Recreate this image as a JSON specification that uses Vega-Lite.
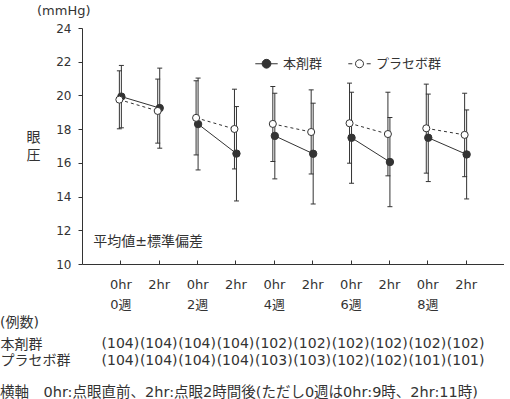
{
  "$schema": "https://vega.github.io/schema/vega-lite/v6.json",
  "background": "white",
  "padding": {"left": 0, "top": 5, "right": 0, "bottom": 0},
  "spacing": 5,
  "title": {"text": "横軸　0hr:点眼直前、2hr:点眼2時間後(ただし0週は0hr:9時、2hr:11時)", "orient": "bottom", "anchor": "start", "frame": "bounds", "offset": 17, "fontSize": 14.5, "fontWeight": "normal", "color": "#333"},
  "datasets": {
    "iop": [
      {"time": "0週 0hr", "week": "0週", "group": "本剤群", "mean": 19.93, "lo": 18.08, "hi": 21.78, "n": "(104)"},
      {"time": "0週 2hr", "week": "0週", "group": "本剤群", "mean": 19.25, "lo": 16.87, "hi": 21.62, "n": "(104)"},
      {"time": "2週 0hr", "week": "2週", "group": "本剤群", "mean": 18.30, "lo": 15.58, "hi": 21.03, "n": "(104)"},
      {"time": "2週 2hr", "week": "2週", "group": "本剤群", "mean": 16.55, "lo": 13.74, "hi": 19.34, "n": "(104)"},
      {"time": "4週 0hr", "week": "4週", "group": "本剤群", "mean": 17.60, "lo": 15.05, "hi": 20.13, "n": "(102)"},
      {"time": "4週 2hr", "week": "4週", "group": "本剤群", "mean": 16.54, "lo": 13.56, "hi": 19.54, "n": "(102)"},
      {"time": "6週 0hr", "week": "6週", "group": "本剤群", "mean": 17.49, "lo": 14.79, "hi": 20.19, "n": "(102)"},
      {"time": "6週 2hr", "week": "6週", "group": "本剤群", "mean": 16.05, "lo": 13.40, "hi": 18.69, "n": "(102)"},
      {"time": "8週 0hr", "week": "8週", "group": "本剤群", "mean": 17.49, "lo": 14.89, "hi": 20.08, "n": "(102)"},
      {"time": "8週 2hr", "week": "8週", "group": "本剤群", "mean": 16.50, "lo": 13.86, "hi": 19.14, "n": "(102)"},
      {"time": "0週 0hr", "week": "0週", "group": "プラセボ群", "mean": 19.75, "lo": 18.02, "hi": 21.46, "n": "(104)"},
      {"time": "0週 2hr", "week": "0週", "group": "プラセボ群", "mean": 19.08, "lo": 17.17, "hi": 20.97, "n": "(104)"},
      {"time": "2週 0hr", "week": "2週", "group": "プラセボ群", "mean": 18.67, "lo": 16.47, "hi": 20.87, "n": "(104)"},
      {"time": "2週 2hr", "week": "2週", "group": "プラセボ群", "mean": 18.01, "lo": 15.64, "hi": 20.37, "n": "(104)"},
      {"time": "4週 0hr", "week": "4週", "group": "プラセボ群", "mean": 18.31, "lo": 16.08, "hi": 20.53, "n": "(103)"},
      {"time": "4週 2hr", "week": "4週", "group": "プラセボ群", "mean": 17.83, "lo": 15.34, "hi": 20.33, "n": "(103)"},
      {"time": "6週 0hr", "week": "6週", "group": "プラセボ群", "mean": 18.35, "lo": 15.98, "hi": 20.73, "n": "(102)"},
      {"time": "6週 2hr", "week": "6週", "group": "プラセボ群", "mean": 17.71, "lo": 15.23, "hi": 20.19, "n": "(102)"},
      {"time": "8週 0hr", "week": "8週", "group": "プラセボ群", "mean": 18.05, "lo": 15.39, "hi": 20.67, "n": "(101)"},
      {"time": "8週 2hr", "week": "8週", "group": "プラセボ群", "mean": 17.66, "lo": 15.18, "hi": 20.13, "n": "(101)"}
    ]
  },
  "resolve": {"scale": {"fill": "independent", "shape": "independent", "stroke": "independent", "xOffset": "independent"}},
  "vconcat": [
    {
      "width": 422,
      "height": 236,
      "data": {"name": "iop"},
      "title": {"text": "(mmHg)", "anchor": "start", "frame": "group", "dx": -45, "offset": 4, "fontSize": 13, "fontWeight": "normal", "color": "#333"},
      "encoding": {
        "x": {
          "field": "time", "type": "ordinal",
          "scale": {"type": "point", "padding": 1, "domain": ["0週 0hr", "0週 2hr", "2週 0hr", "2週 2hr", "4週 0hr", "4週 2hr", "6週 0hr", "6週 2hr", "8週 0hr", "8週 2hr"]},
          "axis": {
            "title": null, "labelAngle": 0, "tickSize": -4, "labelPadding": 18, "labelFontSize": 13, "labelLineHeight": 20,
            "labelExpr": "slice(datum.label, -3) == '0hr' ? ['0hr', slice(datum.label, 0, 2)] : '2hr'",
            "grid": false
          }
        },
        "xOffset": {"field": "group", "type": "nominal", "scale": {"domain": ["プラセボ群", "本剤群"], "range": [-2, 2]}}
      },
      "layer": [
        {
          "mark": {"type": "rule", "color": "#333", "strokeWidth": 1},
          "encoding": {
            "y": {"field": "lo", "type": "quantitative", "scale": {"domain": [10, 24], "nice": false, "zero": false},
              "axis": {"values": [10, 12, 14, 16, 18, 20, 22, 24], "tickCount": 8, "labelOverlap": false, "tickSize": 4, "labelPadding": 7, "labelFontSize": 12, "grid": false,
                "title": ["眼", "圧"], "titleAngle": 0, "titleX": -49, "titleY": 109, "titleAlign": "center", "titleBaseline": "middle",
                "titleFontSize": 14, "titleFontWeight": "normal", "titleLineHeight": 18}},
            "y2": {"field": "hi"}
          }
        },
        {
          "mark": {"type": "tick", "color": "#333", "size": 5, "thickness": 1, "opacity": 1},
          "encoding": {"y": {"field": "hi", "type": "quantitative",
            "axis": {"values": [10, 12, 14, 16, 18, 20, 22, 24], "tickCount": 8, "labelOverlap": false, "tickSize": 4, "labelPadding": 7, "labelFontSize": 12, "grid": false,
                "title": ["眼", "圧"], "titleAngle": 0, "titleX": -49, "titleY": 109, "titleAlign": "center", "titleBaseline": "middle",
                "titleFontSize": 14, "titleFontWeight": "normal", "titleLineHeight": 18}}}
        },
        {
          "mark": {"type": "tick", "color": "#333", "size": 5, "thickness": 1, "opacity": 1},
          "encoding": {"y": {"field": "lo", "type": "quantitative",
            "axis": {"values": [10, 12, 14, 16, 18, 20, 22, 24], "tickCount": 8, "labelOverlap": false, "tickSize": 4, "labelPadding": 7, "labelFontSize": 12, "grid": false,
                "title": ["眼", "圧"], "titleAngle": 0, "titleX": -49, "titleY": 109, "titleAlign": "center", "titleBaseline": "middle",
                "titleFontSize": 14, "titleFontWeight": "normal", "titleLineHeight": 18}}}
        },
        {
          "transform": [{"filter": "datum.group == '本剤群'"}],
          "mark": {"type": "line", "color": "#333", "strokeWidth": 1},
          "encoding": {"y": {"field": "mean", "type": "quantitative",
            "axis": {"values": [10, 12, 14, 16, 18, 20, 22, 24], "tickCount": 8, "labelOverlap": false, "tickSize": 4, "labelPadding": 7, "labelFontSize": 12, "grid": false,
                "title": ["眼", "圧"], "titleAngle": 0, "titleX": -49, "titleY": 109, "titleAlign": "center", "titleBaseline": "middle",
                "titleFontSize": 14, "titleFontWeight": "normal", "titleLineHeight": 18}}, "detail": {"field": "week"}}
        },
        {
          "transform": [{"filter": "datum.group == 'プラセボ群'"}],
          "mark": {"type": "line", "color": "#333", "strokeWidth": 1, "strokeDash": [3, 3]},
          "encoding": {"y": {"field": "mean", "type": "quantitative",
            "axis": {"values": [10, 12, 14, 16, 18, 20, 22, 24], "tickCount": 8, "labelOverlap": false, "tickSize": 4, "labelPadding": 7, "labelFontSize": 12, "grid": false,
                "title": ["眼", "圧"], "titleAngle": 0, "titleX": -49, "titleY": 109, "titleAlign": "center", "titleBaseline": "middle",
                "titleFontSize": 14, "titleFontWeight": "normal", "titleLineHeight": 18}}, "detail": {"field": "week"}}
        },
        {
          "transform": [{"filter": "datum.group == '本剤群'"}],
          "mark": {"type": "point", "filled": true, "fill": "#333", "stroke": "#333", "strokeWidth": 1, "size": 55, "opacity": 1},
          "encoding": {"y": {"field": "mean", "type": "quantitative",
            "axis": {"values": [10, 12, 14, 16, 18, 20, 22, 24], "tickCount": 8, "labelOverlap": false, "tickSize": 4, "labelPadding": 7, "labelFontSize": 12, "grid": false,
                "title": ["眼", "圧"], "titleAngle": 0, "titleX": -49, "titleY": 109, "titleAlign": "center", "titleBaseline": "middle",
                "titleFontSize": 14, "titleFontWeight": "normal", "titleLineHeight": 18}}}
        },
        {
          "transform": [{"filter": "datum.group == 'プラセボ群'"}],
          "mark": {"type": "point", "filled": true, "fill": "white", "stroke": "#333", "strokeWidth": 1, "size": 50, "opacity": 1},
          "encoding": {"y": {"field": "mean", "type": "quantitative",
            "axis": {"values": [10, 12, 14, 16, 18, 20, 22, 24], "tickCount": 8, "labelOverlap": false, "tickSize": 4, "labelPadding": 7, "labelFontSize": 12, "grid": false,
                "title": ["眼", "圧"], "titleAngle": 0, "titleX": -49, "titleY": 109, "titleAlign": "center", "titleBaseline": "middle",
                "titleFontSize": 14, "titleFontWeight": "normal", "titleLineHeight": 18}}}
        },
        {
          "transform": [{"filter": "datum.group == 'none'"}],
          "mark": {"type": "point", "filled": true, "opacity": 1, "strokeWidth": 1},
          "encoding": {
            "x": {"field": "time", "type": "ordinal"},
            "xOffset": {"field": "group", "type": "nominal"},
            "shape": {"field": "group", "type": "nominal",
              "scale": {"domain": ["本剤群", "プラセボ群"], "range": ["M-1.4,0H1.4M0.55,0A0.55,0.55,0,1,1,-0.55,0A0.55,0.55,0,1,1,0.55,0Z", "M-1.4,0H-0.9M0.9,0H1.4M0.5,0A0.5,0.5,0,1,1,-0.5,0A0.5,0.5,0,1,1,0.5,0Z"]},
              "legend": {"orient": "none", "legendX": 176, "legendY": 27, "direction": "horizontal", "title": null, "symbolSize": 256, "symbolStrokeWidth": 1, "symbolOpacity": 1, "labelFontSize": 13, "labelColor": "#333", "labelOffset": 8, "columnPadding": 23, "padding": 0}},
            "fill": {"field": "group", "type": "nominal",
              "scale": {"domain": ["本剤群", "プラセボ群"], "range": ["#333333", "#ffffff"]},
              "legend": {"orient": "none", "legendX": 176, "legendY": 27, "direction": "horizontal", "title": null, "symbolSize": 256, "symbolStrokeWidth": 1, "symbolOpacity": 1, "labelFontSize": 13, "labelColor": "#333", "labelOffset": 8, "columnPadding": 23, "padding": 0}},
            "stroke": {"field": "group", "type": "nominal",
              "scale": {"domain": ["本剤群", "プラセボ群"], "range": ["#333333", "#333333"]},
              "legend": {"orient": "none", "legendX": 176, "legendY": 27, "direction": "horizontal", "title": null, "symbolSize": 256, "symbolStrokeWidth": 1, "symbolOpacity": 1, "labelFontSize": 13, "labelColor": "#333", "labelOffset": 8, "columnPadding": 23, "padding": 0}}
          }
        },
        {
          "data": {"values": [{}]},
          "mark": {"type": "text", "align": "left", "baseline": "middle", "dx": -27, "fontSize": 14, "color": "#333"},
          "encoding": {
            "x": {"datum": "0週 0hr", "type": "ordinal"},
            "xOffset": null,
            "y": {"datum": 11.32, "type": "quantitative",
              "axis": {"values": [10, 12, 14, 16, 18, 20, 22, 24], "tickCount": 8, "labelOverlap": false, "tickSize": 4, "labelPadding": 7, "labelFontSize": 12, "grid": false,
                "title": ["眼", "圧"], "titleAngle": 0, "titleX": -49, "titleY": 109, "titleAlign": "center", "titleBaseline": "middle",
                "titleFontSize": 14, "titleFontWeight": "normal", "titleLineHeight": 18}},
            "text": {"value": "平均値±標準偏差"}
          }
        }
      ]
    },
    {
      "width": 422,
      "height": 33,
      "data": {"name": "iop"},
      "title": {"text": "(例数)", "anchor": "start", "frame": "bounds", "offset": 6, "fontSize": 14, "fontWeight": "normal", "color": "#333"},
      "mark": {"type": "text", "fontSize": 14, "color": "#333", "baseline": "middle"},
      "encoding": {
        "x": {"field": "time", "type": "ordinal",
          "scale": {"type": "point", "padding": 1, "domain": ["0週 0hr", "0週 2hr", "2週 0hr", "2週 2hr", "4週 0hr", "4週 2hr", "6週 0hr", "6週 2hr", "8週 0hr", "8週 2hr"]},
          "axis": null},
        "y": {"field": "group", "type": "nominal", "scale": {"domain": ["本剤群", "プラセボ群"]},
          "axis": {"title": null, "domain": false, "ticks": false, "tickSize": 0, "labelAlign": "left", "labelPadding": 82, "labelFontSize": 14, "labelColor": "#333", "grid": false}},
        "text": {"field": "n"}
      }
    }
  ],
  "config": {
    "view": {"stroke": null},
    "font": "DejaVu Sans, Noto Sans CJK JP",
    "axis": {"domainColor": "#333", "tickColor": "#333", "labelColor": "#333", "titleColor": "#333"},
    "title": {"color": "#333", "fontWeight": "normal"}
  }
}
